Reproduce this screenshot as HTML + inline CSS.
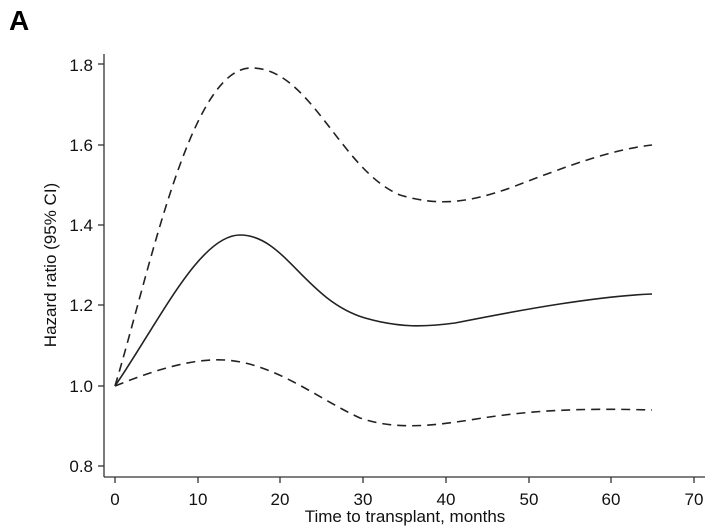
<!DOCTYPE html>
<html><head><style>body{margin:0;background:#fff}svg{display:block}</style></head><body>
<svg width="713" height="532" xmlns="http://www.w3.org/2000/svg" font-family="Liberation Sans, sans-serif">
<text x="9" y="30" font-size="28" font-weight="bold">A</text>
<g stroke="#333" stroke-width="1.3" fill="none">
<line x1="104" y1="54" x2="104" y2="477"/>
<line x1="104" y1="477" x2="705" y2="477"/>
<line x1="98" y1="64" x2="104" y2="64"/>
<line x1="98" y1="145" x2="104" y2="145"/>
<line x1="98" y1="225" x2="104" y2="225"/>
<line x1="98" y1="305" x2="104" y2="305"/>
<line x1="98" y1="386" x2="104" y2="386"/>
<line x1="98" y1="466" x2="104" y2="466"/>
<line x1="115" y1="477" x2="115" y2="483"/>
<line x1="198" y1="477" x2="198" y2="483"/>
<line x1="280" y1="477" x2="280" y2="483"/>
<line x1="363" y1="477" x2="363" y2="483"/>
<line x1="446" y1="477" x2="446" y2="483"/>
<line x1="529" y1="477" x2="529" y2="483"/>
<line x1="611" y1="477" x2="611" y2="483"/>
<line x1="694" y1="477" x2="694" y2="483"/>
</g>
<g font-size="17" fill="#111" text-anchor="end">
<text x="93" y="71">1.8</text><text x="93" y="151">1.6</text><text x="93" y="231">1.4</text>
<text x="93" y="311">1.2</text><text x="93" y="392">1.0</text><text x="93" y="472">0.8</text>
</g>
<g font-size="17" fill="#111" text-anchor="middle">
<text x="115" y="505">0</text><text x="198" y="505">10</text><text x="280" y="505">20</text><text x="363" y="505">30</text>
<text x="446" y="505">40</text><text x="529" y="505">50</text><text x="611" y="505">60</text><text x="694" y="505">70</text>
<text x="405" y="522">Time to transplant, months</text>
<text transform="translate(56,265) rotate(-90)">Hazard ratio (95% CI)</text>
</g>
<g fill="none" stroke="#222" stroke-width="1.6">
<path d="M115,386 C160,320 200,235 240,235 C285,235 305,300 365,318 C400,328 425,327 455,323 C530,308 600,296 652,294"/>
<path stroke-dasharray="9,6" d="M115,386 C150,270 190,70 250,68 C310,66 340,170 400,195 C440,207 470,202 510,188 C570,165 610,150 652,145"/>
<path stroke-dasharray="9,6" d="M115,386 C150,372 190,358 225,360 C275,363 320,400 360,418 C395,430 430,426 470,420 C530,410 580,408 652,410"/>
</g>
</svg>
</body></html>
